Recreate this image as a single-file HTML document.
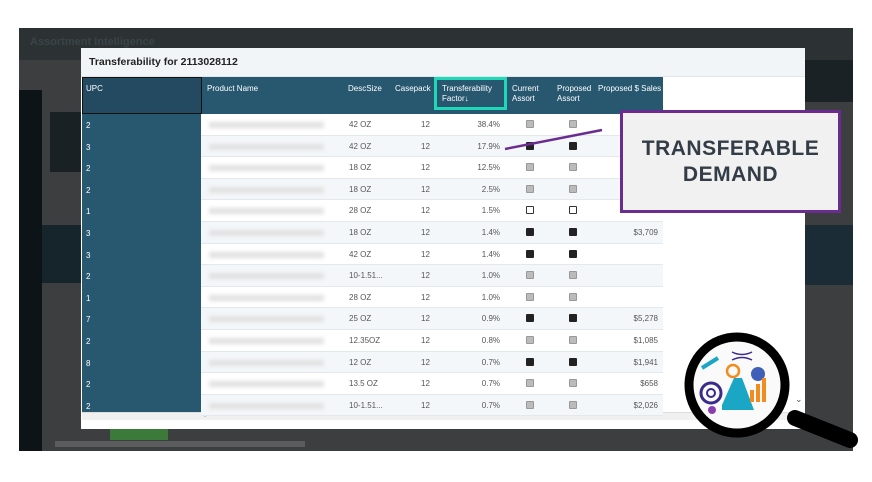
<!DOCTYPE html>
<html><head><meta charset="utf-8"><style>
*{margin:0;padding:0;box-sizing:border-box}
body{width:872px;height:482px;background:#fff;position:relative;overflow:hidden;font-family:"Liberation Sans",sans-serif}
.abs{position:absolute}
.bg{left:19px;top:28px;width:834px;height:423px;background:#3c3e40}
.cb{position:absolute;width:8px;height:8px;border:1px solid #999;background:#bbb;border-radius:1px}
.cb.d{background:#222;border-color:#222}
.cb.e{background:#fff;border-color:#333}
.row{position:absolute;left:201px;width:462px;height:21.6px;border-bottom:1px solid #e3e8ee}
.row span{position:absolute;top:6px;font-size:8px;color:#555}
.blur{position:absolute;left:8px;top:8px;width:115px;height:6px;background:#e0e0e0;filter:blur(2px)}
.upc{position:absolute;left:86px;font-size:8px;color:#fff}
</style></head><body>
<div class="abs bg"></div>
<div class="abs" style="left:19px;top:28px;width:834px;height:32px;background:#2c3234"></div>
<div class="abs" style="left:30px;top:36px;font-size:11px;color:#3a4448;font-weight:bold">Assortment Intelligence</div>
<div class="abs" style="left:19px;top:90px;width:23px;height:361px;background:#0c1418"></div>
<div class="abs" style="left:42px;top:225px;width:40px;height:58px;background:#16242c"></div>
<div class="abs" style="left:50px;top:112px;width:32px;height:60px;background:#1a2125"></div>
<div class="abs" style="left:805px;top:60px;width:48px;height:42px;background:#1a2226"></div>
<div class="abs" style="left:805px;top:225px;width:48px;height:60px;background:#1c2c36"></div>
<div class="abs" style="left:110px;top:429px;width:58px;height:11px;background:#3c7a3a"></div>
<div class="abs" style="left:55px;top:441px;width:250px;height:6px;background:#5a5c5e"></div>
<!-- modal -->
<div class="abs" style="left:81px;top:48px;width:724px;height:381px;background:#fff"></div>
<div class="abs" style="left:81px;top:48px;width:724px;height:29px;background:#f2f5f8;border-bottom:1px solid #e1e5ea"></div>
<div class="abs" style="left:89px;top:56px;font-size:10.5px;color:#222;font-weight:bold">Transferability for 2113028112</div>
<div class="abs" style="left:82px;top:77px;width:581px;height:37px;background:#285870"></div>
<div class="abs" style="left:82px;top:77px;width:120px;height:37px;background:#234a60;border:1px solid #111"></div>
<div class="abs" style="left:82px;top:114px;width:120px;height:298px;background:#285870"></div>
<div class="abs" style="left:82px;top:412px;width:715px;height:8px;background:#f0f0f0;border-top:1px solid #ddd"></div>
<div class="abs" style="left:203px;top:409px;font-size:9px;color:#333">‹</div>
<div class="abs" style="left:795px;top:394px;font-size:9px;color:#555">⌄</div>
<div class="abs" style="color:#fff;font-size:8px;left:86px;top:84px">UPC</div>
<div class="abs" style="color:#fff;font-size:8px;left:207px;top:84px">Product Name</div>
<div class="abs" style="color:#fff;font-size:8px;left:348px;top:84px">DescSize</div>
<div class="abs" style="color:#fff;font-size:8px;left:395px;top:84px">Casepack</div>
<div class="abs" style="left:434px;top:77px;width:73px;height:33px;border:3px solid #1fd8b8"></div>
<div class="abs" style="color:#fff;font-size:8px;left:442px;top:84px;line-height:10px">Transferability<br>Factor↓</div>
<div class="abs" style="color:#fff;font-size:8px;left:512px;top:84px;line-height:10px">Current<br>Assort</div>
<div class="abs" style="color:#fff;font-size:8px;left:557px;top:84px;line-height:10px">Proposed<br>Assort</div>
<div class="abs" style="color:#fff;font-size:8px;left:598px;top:84px">Proposed $ Sales</div>
<div id="rows"></div>
<script>
var d=[["2","42 OZ","38.4%","g","g",""],["3","42 OZ","17.9%","d","d",""],["2","18 OZ","12.5%","g","g",""],["2","18 OZ","2.5%","g","g",""],["1","28 OZ","1.5%","e","e",""],["3","18 OZ","1.4%","d","d","$3,709"],["3","42 OZ","1.4%","d","d",""],["2","10-1.51...","1.0%","g","g",""],["1","28 OZ","1.0%","g","g",""],["7","25 OZ","0.9%","d","d","$5,278"],["2","12.35OZ","0.8%","g","g","$1,085"],["8","12 OZ","0.7%","d","d","$1,941"],["2","13.5 OZ","0.7%","g","g","$658"],["2","10-1.51...","0.7%","g","g","$2,026"]];
var h="";d.forEach(function(r,i){var y=114+i*21.6;var bg=i%2?"#f4f7fa":"#fff";
h+='<div class="row" style="top:'+y+'px;background:'+bg+'"><div class="blur"></div><span style="left:148px">'+r[1]+'</span><span style="left:220px">12</span><span style="right:163px">'+r[2]+'</span><div class="cb '+(r[3]=="g"?"":r[3])+'" style="left:325px;top:6px"></div><div class="cb '+(r[4]=="g"?"":r[4])+'" style="left:368px;top:6px"></div><span style="right:5px">'+r[5]+'</span></div><div class="upc" style="top:'+(y+7)+'px">'+r[0]+'</div>';});
document.getElementById("rows").innerHTML=h;
</script>
<svg class="abs" style="left:0;top:0" width="872" height="482">
<line x1="505" y1="149" x2="602" y2="130" stroke="#6a2c91" stroke-width="2.5"/>
<line x1="795" y1="418" x2="850" y2="440" stroke="#000" stroke-width="16" stroke-linecap="round"/>
<circle cx="737" cy="385" r="48" fill="#fafafa" stroke="#000" stroke-width="9"/>
<circle cx="711" cy="393" r="10" fill="none" stroke="#3a2a8a" stroke-width="3"/>
<circle cx="711" cy="393" r="4" fill="none" stroke="#3a2a8a" stroke-width="2"/>
<path d="M722 405 L734 378 L742 378 L754 410 L722 410Z" fill="#1aa6c4"/>
<circle cx="758" cy="374" r="7" fill="#3f5fb8"/>
<rect x="750" y="390" width="4" height="12" fill="#f28c1e"/><rect x="756" y="384" width="4" height="18" fill="#f28c1e"/><rect x="762" y="378" width="4" height="24" fill="#f28c1e"/>
<circle cx="733" cy="371" r="6" fill="none" stroke="#f28c1e" stroke-width="2.5"/>
<path d="M702 368 L718 358" stroke="#1aa6c4" stroke-width="4"/>
<path d="M732 352 q10 5 20 0 M732 360 q10 -5 20 0" stroke="#3a2a8a" stroke-width="1.5" fill="none"/>
<circle cx="712" cy="410" r="4" fill="#8a3fb0"/>
</svg>
<div class="abs" style="left:620px;top:110px;width:221px;height:103px;background:#f1f1f1;border:3px solid #6a2c91;display:flex;align-items:center;justify-content:center;text-align:center;font-weight:bold;font-size:21px;line-height:26px;color:#333d47;letter-spacing:0.5px">TRANSFERABLE<br>DEMAND</div>
</body></html>
